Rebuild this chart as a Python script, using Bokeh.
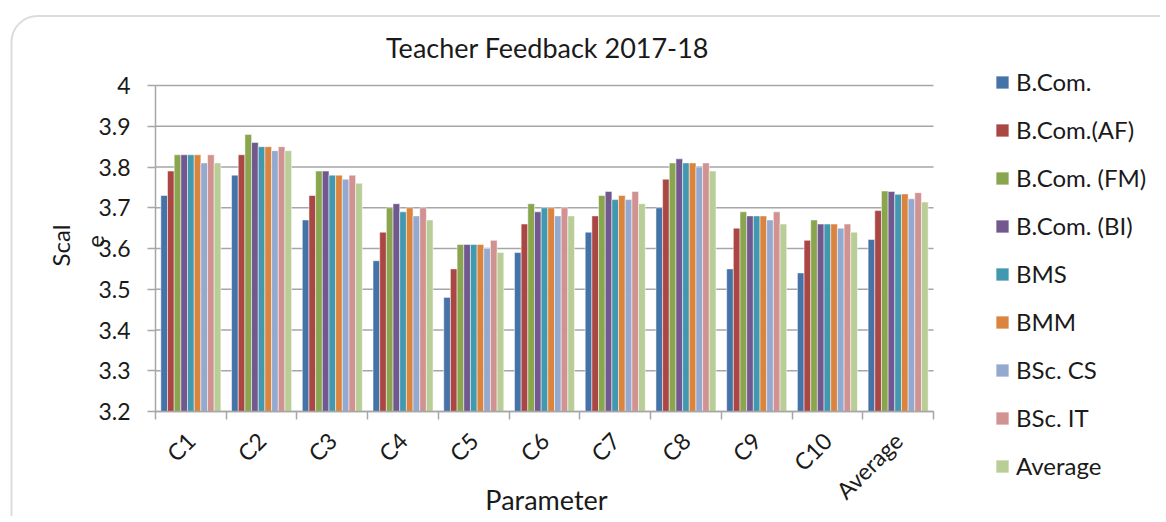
import math
from bokeh.plotting import figure
from bokeh.models import (Range1d, FixedTicker, Legend, LegendItem, Label, BoxAnnotation)
from bokeh.embed import file_html
from bokeh.resources import INLINE

categories = ["C1", "C2", "C3", "C4", "C5", "C6", "C7", "C8", "C9", "C10", "Average"]
series_names = ["B.Com.", "B.Com.(AF)", "B.Com. (FM)", "B.Com. (BI)", "BMS", "BMM",
                "BSc. CS", "BSc. IT", "Average"]
bcom    = [3.73, 3.78, 3.67, 3.57, 3.48, 3.59, 3.64, 3.70, 3.55, 3.54, 3.622]
bcom_af = [3.79, 3.83, 3.73, 3.64, 3.55, 3.66, 3.68, 3.77, 3.65, 3.62, 3.693]
bcom_fm = [3.83, 3.88, 3.79, 3.70, 3.61, 3.71, 3.73, 3.81, 3.69, 3.67, 3.741]
bcom_bi = [3.83, 3.86, 3.79, 3.71, 3.61, 3.69, 3.74, 3.82, 3.68, 3.66, 3.740]
bms     = [3.83, 3.85, 3.78, 3.69, 3.61, 3.70, 3.72, 3.81, 3.68, 3.66, 3.733]
bmm     = [3.83, 3.85, 3.78, 3.70, 3.61, 3.70, 3.73, 3.81, 3.68, 3.66, 3.734]
bsc_cs  = [3.81, 3.84, 3.77, 3.68, 3.60, 3.68, 3.72, 3.80, 3.67, 3.65, 3.722]
bsc_it  = [3.83, 3.85, 3.78, 3.70, 3.62, 3.70, 3.74, 3.81, 3.69, 3.66, 3.737]
average = [3.81, 3.84, 3.76, 3.67, 3.59, 3.68, 3.71, 3.79, 3.66, 3.64, 3.714]
y_ticks = [3.2, 3.3, 3.4, 3.5, 3.6, 3.7, 3.8, 3.9, 4.0]
y_tick_labels = ["3.2", "3.3", "3.4", "3.5", "3.6", "3.7", "3.8", "3.9", "4"]

colors = ["#4572A7", "#AA4643", "#89A54E", "#71588F", "#4198AF", "#DB843D",
          "#93A9CF", "#D19392", "#B9CD96"]
all_series = [bcom, bcom_af, bcom_fm, bcom_bi, bms, bmm, bsc_cs, bsc_it, average]

FONT = "Lato"
TXT = "#1a1a1a"
GRID = "#a6a6a6"

# canvas geometry (pixels): the plot frame fills the whole canvas
W, H = 1160, 516
AX_LEFT, AX_BOTTOM = 155, 411          # pixel position of the axes' origin
PX_X = 778 / len(categories)           # pixels per category
PX_Y = 326 / (y_ticks[-1] - y_ticks[0])
y0 = y_ticks[0]
x_range = Range1d(-AX_LEFT / PX_X, (W - AX_LEFT) / PX_X)
y_range = Range1d(y0 - (H - AX_BOTTOM) / PX_Y, y0 + AX_BOTTOM / PX_Y)

p = figure(width=W, height=H, output_backend="svg", toolbar_location=None,
           x_range=x_range, y_range=y_range, min_border=0)
p.outline_line_color = None
p.background_fill_color = "white"
p.border_fill_color = "white"
p.xgrid.visible = False
p.ygrid.visible = False

def px_to_x(px):
    return (px - AX_LEFT) / PX_X

def py_to_y(py):
    return y0 + (AX_BOTTOM - py) / PX_Y

# rounded chart-area border (right and bottom edges fall outside the picture)
p.add_layout(BoxAnnotation(left=px_to_x(11), top=py_to_y(15.5),
                           right=px_to_x(W + 40), bottom=py_to_y(H + 40),
                           fill_alpha=0, line_color="#8a8a8a", line_width=2,
                           border_radius=26))

# horizontal gridlines across the category span
p.segment(x0=0, x1=len(categories), y0=y_ticks, y1=y_ticks,
          line_color=GRID, line_width=1.5)

bar_w = 0.0943
n = len(series_names)
items = []
for j, (name, vals, col) in enumerate(zip(series_names, all_series, colors)):
    xs = [i + 0.5 + (j - (n - 1) / 2) * bar_w for i in range(len(categories))]
    r = p.vbar(x=xs, top=vals, bottom=y0, width=bar_w, fill_color=col,
               line_color="white", line_width=0.5)
    items.append(LegendItem(label=name, renderers=[r]))

# x axis: labels at category centres, tick marks at category boundaries
xa = p.xaxis[0]
xa.fixed_location = y0
xa.bounds = (0, len(categories))
xa.ticker = FixedTicker(ticks=[i + 0.5 for i in range(len(categories))],
                        minor_ticks=list(range(len(categories) + 1)))
xa.major_label_overrides = {i + 0.5: c for i, c in enumerate(categories)}
xa.major_tick_line_color = None
xa.minor_tick_line_color = GRID
xa.minor_tick_line_width = 1.5
xa.minor_tick_in = 0
xa.minor_tick_out = 8
xa.axis_line_color = GRID
xa.axis_line_width = 1.5
xa.major_label_orientation = math.pi / 4
xa.major_label_text_font = FONT
xa.major_label_text_font_size = "23px"
xa.major_label_text_color = TXT
xa.major_label_standoff = 17

ya = p.yaxis[0]
ya.fixed_location = 0
ya.bounds = (y_ticks[0], y_ticks[-1])
ya.ticker = FixedTicker(ticks=y_ticks, minor_ticks=[])
ya.major_label_overrides = {t: l for t, l in zip(y_ticks, y_tick_labels)}
ya.major_tick_line_color = GRID
ya.major_tick_line_width = 1.5
ya.major_tick_in = 0
ya.major_tick_out = 8
ya.axis_line_color = GRID
ya.axis_line_width = 1.5
ya.major_label_text_font = FONT
ya.major_label_text_font_size = "23px"
ya.major_label_text_color = TXT
ya.major_label_text_align = "right"
ya.major_label_standoff = 17

def add_text(text, px, py, size, angle=0.0):
    p.add_layout(Label(x=px_to_x(px), y=py_to_y(py), text=text, angle=angle,
                       text_align="center", text_baseline="middle",
                       text_font=FONT, text_font_size=size, text_color=TXT))

add_text("Teacher Feedback 2017-18", 547, 47, "27px")
add_text("Parameter", 546, 499, "27px")
add_text("Scal", 60, 245, "24px", math.pi / 2)
add_text("e", 95, 241, "24px", math.pi / 2)

legend = Legend(items=items, location=(994, H - 480), orientation="vertical",
                padding=0, margin=0, spacing=19, label_height=26,
                glyph_height=16, glyph_width=16, label_standoff=6,
                label_text_font=FONT, label_text_font_size="24px",
                label_text_color=TXT, border_line_color=None,
                background_fill_alpha=0)
p.add_layout(legend, "center")

open("out.html", "w").write(file_html(p, INLINE))
